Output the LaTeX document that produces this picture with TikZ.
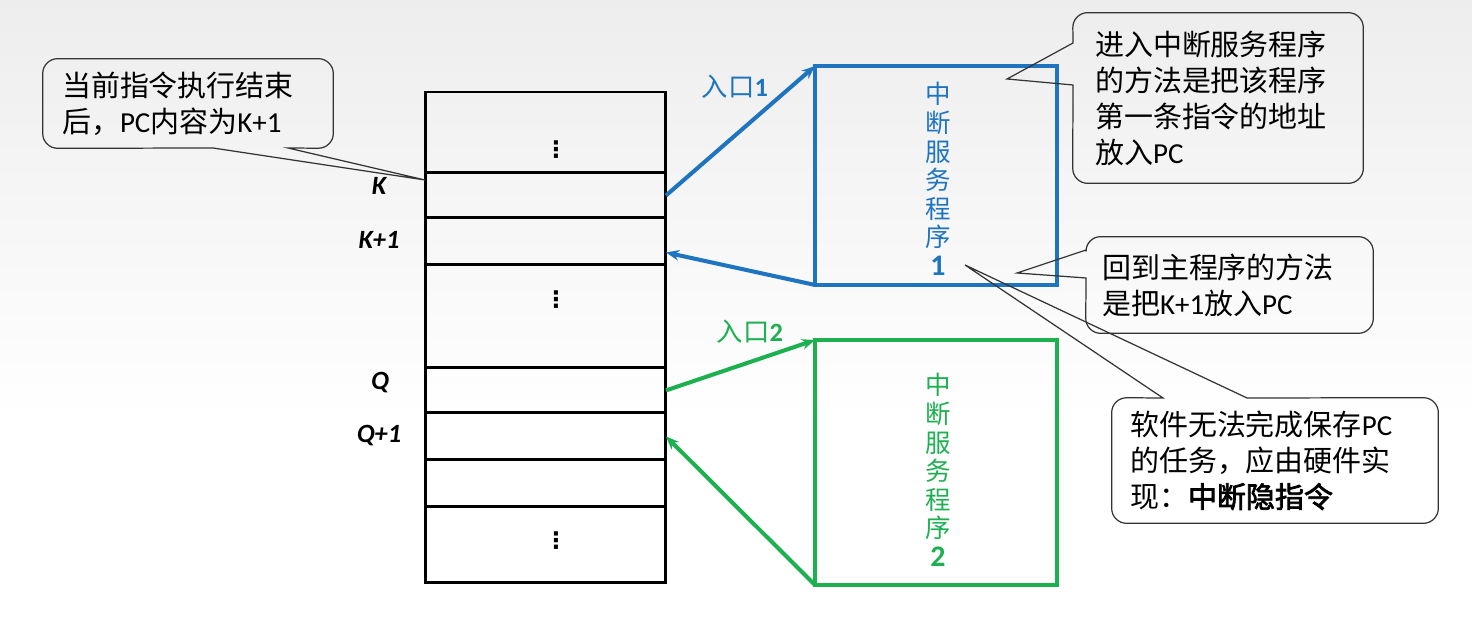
\documentclass[tikz,border=0pt]{standalone}
\usepackage{fontspec}
\setmainfont{Carlito}
\newfontfamily\cjk[AutoFakeBold=2.5]{Noto Sans CJK SC}
\newfontfamily\sym{DejaVu Sans}
\newcommand\zh[1]{{\cjk #1}}
\usetikzlibrary{arrows.meta,positioning,calc}
\definecolor{isrblue}{HTML}{1F74C0}
\definecolor{isrgreen}{HTML}{1DB050}

\begin{document}
\begin{tikzpicture}[x=0.02cm, y=-0.02cm, >={Stealth[length=7.5pt,width=6pt]},
  mem/.style={draw, line width=1.7pt, minimum width=4.82cm, inner sep=0pt, outer sep=0pt},
  isr/.style={draw, line width=2.3pt, minimum width=4.84cm, inner sep=0pt, outer sep=0pt},
  addr/.style={font=\fontsize{15}{18}\selectfont\bfseries\itshape},
  dots/.style={font=\fontsize{13}{13}\selectfont\sym\bfseries},
  vtxt/.style={align=center, font=\fontsize{14.5}{16.3}\selectfont\cjk},
  note/.style={align=left, inner ysep=0pt, font=\fontsize{16.5}{20.5}\selectfont},
  callout/.style={draw=black!80, line width=0.7pt}]
\shade[top color=black!7, bottom color=white] (0,0) rectangle (1472,420);
\fill[white] (0,420) rectangle (1472,641);
% main memory
\node[mem, minimum height=1.62cm, anchor=north] (m0) at (545.5,92) {};
\node[mem, minimum height=0.90cm, below=0pt of m0] (k) {};
\node[mem, minimum height=0.94cm, below=0pt of k] (k1) {};
\node[mem, minimum height=2.06cm, below=0pt of k1] (m3) {};
\node[mem, minimum height=0.90cm, below=0pt of m3] (q) {};
\node[mem, minimum height=0.94cm, below=0pt of q] (q1) {};
\node[mem, minimum height=0.94cm, below=0pt of q1] (m6) {};
\node[mem, minimum height=1.52cm, below=0pt of m6] (m7) {};
\node[dots] (d0) at (556,150) {⋮};
\node[dots] (d3) at (556,300) {⋮};
\node[dots] (d7) at (556,541) {⋮};
\node[addr] (lk) at (379,186) {K};
\node[addr] (lk1) at (379,240) {K+1};
\node[addr] (lq) at (380,383) {Q};
\node[addr] (lq1) at (379,436) {Q+1};
% service routines
\node[isr, draw=isrblue, minimum height=4.38cm] (isr1) at (936,175.5) {};
\node[vtxt, text=isrblue] (t1) at (938,179) {中\\断\\服\\务\\程\\序\\\textbf{\rmfamily\fontsize{17}{17}\selectfont 1}};
\node[isr, draw=isrgreen, minimum height=4.90cm] (isr2) at (936,462.5) {};
\node[vtxt, text=isrgreen] (t2) at (938,470) {中\\断\\服\\务\\程\\序\\\textbf{\rmfamily\fontsize{17}{17}\selectfont 2}};
\draw[->, isrblue, line width=2.3pt] (k.east) -- (isr1.north west);
\draw[->, isrblue, line width=2.3pt] (isr1.south west) -- ([yshift=-0.22cm]k1.east);
\draw[->, isrgreen, line width=2.3pt] (q.east) -- (isr2.north west);
\draw[->, isrgreen, line width=2.3pt] (isr2.south west) -- (q1.east);
\node[text=isrblue, font=\fontsize{15}{18}\selectfont] (in1) at (735,87) {\zh{入口}\textbf{1}};
\node[text=isrgreen, font=\fontsize{15}{18}\selectfont] (in2) at (750,332) {\zh{入口}\textbf{2}};
% callouts
\node[note, minimum width=5.8cm, minimum height=1.78cm, inner xsep=0.38cm, text width=5.04cm] (c1) at (188,103.5)
  {\zh{当前指令执行结束}\\\zh{后，}PC\zh{内容为}K+1};
\coordinate (tip1) at (425,180);
\draw[callout, rounded corners=0.3cm] (c1.north) -- (c1.north east) -- (c1.south east)
  [sharp corners] -- (288,148) -- (tip1) -- (213,148) [rounded corners=0.3cm] -- (c1.south west)
  -- (c1.north west) -- (c1.north);
\node[note, minimum width=5.8cm, minimum height=3.4cm, inner xsep=0.44cm, text width=4.92cm] (c2) at (1218,98)
  {\zh{进入中断服务程序}\\\zh{的方法是把该程序}\\\zh{第一条指令的地址}\\\zh{放入}PC};
\coordinate (tip2) at (1007,79);
\draw[callout, rounded corners=0.3cm] (c2.north) -- (c2.north west)
  [sharp corners] -- (1073,43) -- (tip2) -- (1073,85) [rounded corners=0.3cm] -- (c2.south west)
  -- (c2.south east) -- (c2.north east) -- (c2.north);
\node[note, minimum width=5.74cm, minimum height=1.92cm, inner xsep=0.32cm, text width=5.1cm] (c3) at (1229.5,285)
  {\zh{回到主程序的方法}\\\zh{是把}K+1\zh{放入}PC};
\coordinate (tip3) at (1017,273);
\draw[callout, rounded corners=0.3cm] (c3.north) -- (c3.north west)
  [sharp corners] -- (1086,250) -- (tip3) -- (1086,278) [rounded corners=0.3cm] -- (c3.south west)
  -- (c3.south east) -- (c3.north east) -- (c3.north);
\node[note, minimum width=6.52cm, minimum height=2.5cm, inner xsep=0.36cm, text width=5.8cm] (c4) at (1275,460.5)
  {\zh{软件无法完成保存}PC\\\zh{的任务，应由硬件实}\\\zh{现：}\zh{\bfseries 中断隐指令}};
\coordinate (tip4) at (965,265);
\draw[callout, rounded corners=0.3cm] (c4.east) -- (c4.south east) -- (c4.south west)
  -- (c4.north west) [sharp corners] -- (1163,398) -- (tip4) -- (1247,398)
  [rounded corners=0.3cm] -- (c4.north east) -- (c4.east);
\end{tikzpicture}
\end{document}
